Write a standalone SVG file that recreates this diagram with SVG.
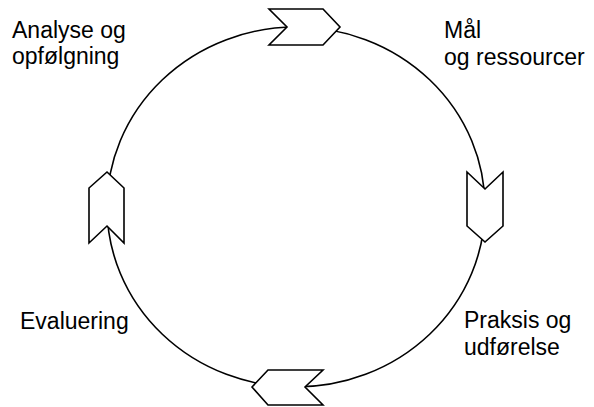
<svg xmlns="http://www.w3.org/2000/svg" width="594" height="407" viewBox="0 0 594 407">
<style>
.ln{fill:none;stroke:#000;stroke-width:1.6}
.chev{fill:#fff;stroke:#000;stroke-width:1.6;stroke-linejoin:miter}
.lbl{font-family:"Liberation Sans",Arial,sans-serif;font-size:23px;fill:#000}
</style>
<rect width="594" height="407" fill="#fff"/>
<g id="connectors">
<ellipse class="ln" cx="296" cy="207" rx="189" ry="180"/>
</g>
<g id="arrow-top"><polygon class="chev" points="269,9 323,9 340,27 323,45 269,45 287,27"/></g>
<g id="arrow-right"><polygon class="chev" points="467,172 485,189 503,172 503,226 485,242 467,226"/></g>
<g id="arrow-bottom"><polygon class="chev" points="252,387 268,370 323,370 305,387 323,405 268,405"/></g>
<g id="arrow-left"><polygon class="chev" points="107,172 124,188 124,243 107,226 89,243 89,188"/></g>
<g id="node-analyse"><text class="lbl" x="12" y="38">Analyse og</text><text class="lbl" x="12" y="64">opfølgning</text></g>
<g id="node-maal"><text class="lbl" x="444" y="38">Mål</text><text class="lbl" x="444" y="65">og ressourcer</text></g>
<g id="node-evaluering"><text class="lbl" x="20" y="329">Evaluering</text></g>
<g id="node-praksis"><text class="lbl" x="464" y="328">Praksis og</text><text class="lbl" x="464" y="355">udførelse</text></g>
</svg>
